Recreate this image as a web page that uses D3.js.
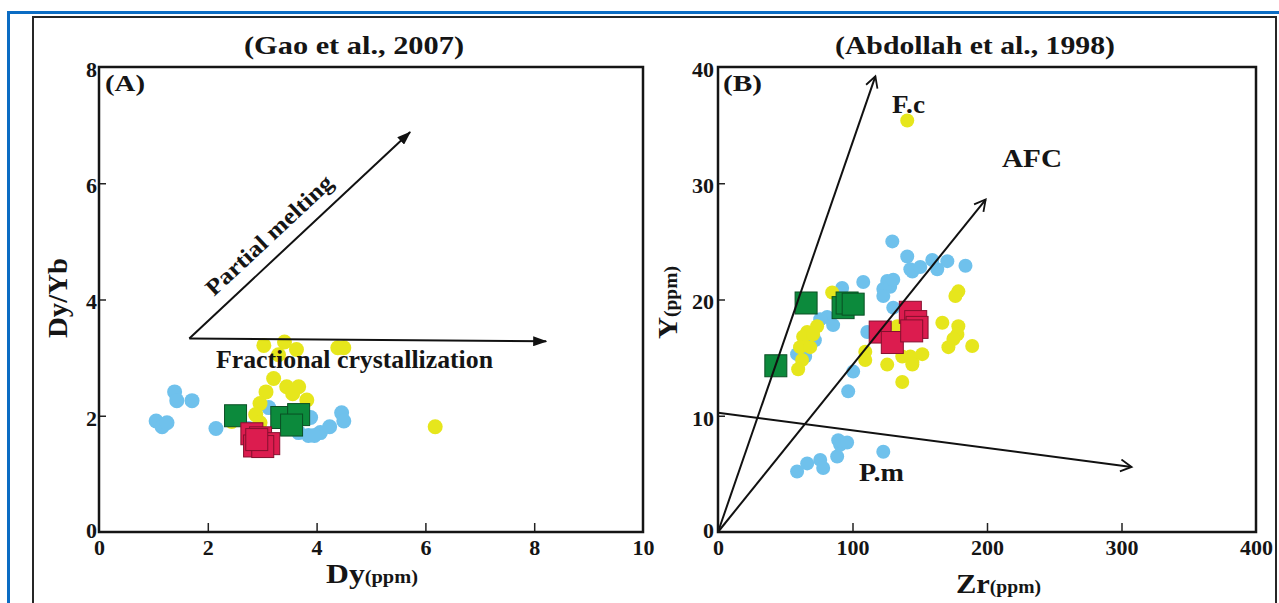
<!DOCTYPE html>
<html>
<head>
<meta charset="utf-8">
<script src="https://cdn.jsdelivr.net/npm/d3@7"></script>
<style>
  body { margin: 0; background: #fff; }
  svg text { font-family: "Times New Roman", "Liberation Serif", Tinos, Times, serif; font-weight: 700; fill: #151515; }
</style>
</head>
<body>
<div id="chart"></div>
<script>
// ---- Panel A data: Dy (ppm) vs Dy/Yb
const aXTicks = [0, 2, 4, 6, 8, 10];
const aYTicks = [0, 2, 4, 6, 8];
const aBlue = [[1.05,1.91],[1.16,1.81],[1.25,1.88],[1.39,2.41],[1.43,2.26],[1.71,2.26],[2.15,1.78],
  [2.75,1.78],[3.12,2.14],[3.67,1.71],[3.85,1.66],[4.07,1.71],[4.24,1.81],[4.46,2.05],[4.50,1.91],
  [3.89,1.97],[3.76,2.03],[3.96,1.66]];
const aYellow = [[3.03,3.21],[3.41,3.27],[3.63,3.14],[3.30,3.05],[4.39,3.17],[4.50,3.17],[3.21,2.64],
  [3.45,2.50],[3.67,2.50],[3.07,2.41],[3.56,2.38],[3.82,2.27],[2.96,2.21],[2.88,2.02],[2.96,1.88],
  [2.44,1.90],[6.18,1.81]];
const aGreen = [[2.51,2.00],[3.36,1.97],[3.67,2.02],[3.54,1.84]];
const aRed = [[2.81,1.69],[2.97,1.62],[2.86,1.48],[3.12,1.52],[3.01,1.47],[2.90,1.59]];
// arrow start / end points in data units
const aMeltArrow = [[1.66,3.33],[5.72,6.88]];
const aFracArrow = [[1.66,3.33],[8.22,3.28]];

// ---- Panel B data: Zr (ppm) vs Y (ppm)
const bXTicks = [0, 100, 200, 300, 400];
const bYTicks = [0, 10, 20, 30, 40];
const bBlue = [[129.6,25.0],[140.7,23.7],[144.5,22.4],[143,22.6],[150.4,22.8],[159.3,23.4],[163,22.6],
  [170.5,23.3],[184,22.9],[108,21.5],[125.8,21.6],[122.9,20.9],[128,21.1],[122.9,20.3],[130.3,21.7],
  [92.3,21.0],[130.3,19.3],[81.2,18.5],[85.6,17.8],[76,18.3],[111,17.2],[72,16.5],[58.8,15.3],
  [64.8,15.1],[100.5,13.8],[96.8,12.1],[58.8,5.2],[66.3,5.9],[76,6.2],[78.2,5.5],[88.6,6.5],
  [90.8,7.5],[89.4,7.9],[96,7.7],[122.9,6.9]];
const bYellow = [[140.7,35.4],[84.9,20.6],[73.7,17.7],[66.3,17.2],[63.3,16.8],[70.7,17.0],[61,15.9],
  [68.5,15.9],[62.5,14.8],[59.6,14.0],[109.5,15.5],[109.5,14.8],[125.8,14.4],[137,12.9],[137,15.1],
  [144.5,14.6],[133.3,17.7],[178.7,20.7],[176.5,20.3],[166.8,18.0],[178.7,17.7],[178,17.0],[175,16.6],
  [171.3,15.9],[189,16.0],[151.9,15.3],[143,15.1],[144.5,14.4]];
const bGreen = [[43,14.3],[65.5,19.7],[93,19.3],[96,19.7],[100.5,19.6]];
const bRed = [[120.6,17.2],[129.6,16.3],[143,18.9],[147,18.1],[148,17.6],[144,17.3]];
const bFcArrow = [[0,0],[117,39.2]];
const bAfcArrow = [[0,0],[199,28.6]];
const bPmArrow = [[0,10.25],[307.5,5.6]];

const colBlue = "#6fc1ec", colYellow = "#e6e61c", colGreen = "#0c8a3c", colRed = "#dc1c4f";

var svg = d3.select("#chart").append("svg")
  .attr("width", 1279).attr("height", 603);

svg.append("rect").attr("width", 1279).attr("height", 603).attr("fill", "#fff");

// outer frames (blue page border + black figure box)
svg.append("rect").attr("x", 8.5).attr("y", 12.5).attr("width", 1300).attr("height", 700)
  .attr("fill", "none").attr("stroke", "#0b6cc3").attr("stroke-width", 3);
svg.append("rect").attr("x", 33).attr("y", 17).attr("width", 1243).attr("height", 700)
  .attr("fill", "none").attr("stroke", "#262626").attr("stroke-width", 2);

// arrow heads
var defs = svg.append("defs");
defs.append("marker").attr("id", "headFill")
  .attr("markerUnits", "userSpaceOnUse").attr("viewBox", "0 0 14 10")
  .attr("refX", 13).attr("refY", 5).attr("markerWidth", 14).attr("markerHeight", 10)
  .attr("orient", "auto")
  .append("path").attr("d", "M0,0 L14,5 L0,10 Z").attr("fill", "#111");
defs.append("marker").attr("id", "headOpen")
  .attr("markerUnits", "userSpaceOnUse").attr("viewBox", "0 0 14 14")
  .attr("refX", 12).attr("refY", 7).attr("markerWidth", 14).attr("markerHeight", 14)
  .attr("orient", "auto")
  .append("path").attr("d", "M1,1 L12,7 L1,13").attr("fill", "none")
  .attr("stroke", "#111").attr("stroke-width", 1.8);

function stretchText(sel, len) {
  return sel.attr("textLength", len).attr("lengthAdjust", "spacingAndGlyphs");
}

// Draw one panel: frame, axes, points
function drawPanel(p) {
  var x = d3.scaleLinear().domain(p.xDomain).range([p.left, p.right]);
  var y = d3.scaleLinear().domain(p.yDomain).range([p.bottom, p.top]);
  var g = svg.append("g");

  // x axis with inward ticks
  var xa = g.append("g").attr("transform", "translate(0," + p.bottom + ")")
    .call(d3.axisBottom(x).tickValues(p.xTicks).tickSize(-9).tickFormat(d3.format("d")));
  xa.select(".domain").remove();
  xa.selectAll("line").attr("stroke", "#222").attr("stroke-width", 1.5)
    .attr("display", (d, i) => (i === 0 || i === p.xTicks.length - 1) ? "none" : null);
  xa.selectAll("text").attr("y", 23).attr("dy", null)
    .attr("font-family", null).attr("font-size", null)
    .style("font-size", "22px").attr("fill", "#151515");

  var ya = g.append("g").attr("transform", "translate(" + p.left + ",0)")
    .call(d3.axisLeft(y).tickValues(p.yTicks).tickSize(-7).tickFormat(d3.format("d")));
  ya.select(".domain").remove();
  ya.selectAll("line").attr("stroke", "#222").attr("stroke-width", 1.5)
    .attr("display", (d, i) => (i === 0 || i === p.yTicks.length - 1) ? "none" : null);
  ya.selectAll("text").attr("x", p.yLabelX).attr("dy", (d, i) => i === 0 ? "0.25em" : "0.42em")
    .style("font-size", "22px").attr("fill", "#151515");
  // d3 axis sets font-family on the group; clear it so the CSS serif applies
  xa.attr("font-family", null).attr("font-size", null);
  ya.attr("font-family", null).attr("font-size", null);

  // points: blue, yellow circles then green, red squares
  g.append("g").selectAll("circle").data(p.blue).enter().append("circle")
    .attr("cx", d => x(d[0])).attr("cy", d => y(d[1])).attr("r", p.r).attr("fill", colBlue);
  g.append("g").selectAll("circle").data(p.yellow).enter().append("circle")
    .attr("cx", d => x(d[0])).attr("cy", d => y(d[1])).attr("r", p.r).attr("fill", colYellow);
  g.append("g").selectAll("rect").data(p.green).enter().append("rect")
    .attr("x", d => x(d[0]) - p.sq / 2).attr("y", d => y(d[1]) - p.sq / 2)
    .attr("width", p.sq).attr("height", p.sq)
    .attr("fill", colGreen).attr("stroke", "#0a4f24").attr("stroke-width", 1);
  g.append("g").selectAll("rect").data(p.red).enter().append("rect")
    .attr("x", d => x(d[0]) - p.sq / 2).attr("y", d => y(d[1]) - p.sq / 2)
    .attr("width", p.sq).attr("height", p.sq)
    .attr("fill", colRed).attr("stroke", "#85102e").attr("stroke-width", 1);

  // arrows
  p.arrows.forEach(function (a) {
    g.append("line")
      .attr("x1", x(a[0][0])).attr("y1", y(a[0][1]))
      .attr("x2", x(a[1][0])).attr("y2", y(a[1][1]))
      .attr("stroke", "#111").attr("stroke-width", 2)
      .attr("marker-end", "url(#" + p.head + ")");
  });

  // plot frame
  g.append("rect").attr("x", p.left).attr("y", p.top)
    .attr("width", p.right - p.left).attr("height", p.bottom - p.top)
    .attr("fill", "none").attr("stroke", "#151515").attr("stroke-width", 2.5);

  return g;
}

var gA = drawPanel({
  xDomain: [0, 10], yDomain: [0, 8], left: 99, right: 643, top: 67, bottom: 532,
  xTicks: aXTicks, yTicks: aYTicks, yLabelX: -2,
  blue: aBlue, yellow: aYellow, green: aGreen, red: aRed, r: 7.5, sq: 22,
  arrows: [aMeltArrow, aFracArrow], head: "headFill"
});

var gB = drawPanel({
  xDomain: [0, 400], yDomain: [0, 40], left: 718, right: 1256, top: 67, bottom: 532,
  xTicks: bXTicks, yTicks: bYTicks, yLabelX: -4,
  blue: bBlue, yellow: bYellow, green: bGreen, red: bRed, r: 7, sq: 22,
  arrows: [bFcArrow, bAfcArrow, bPmArrow], head: "headOpen"
});

// titles and panel letters
stretchText(svg.append("text").attr("x", 244).attr("y", 54).style("font-size", "25px")
  .text("(Gao et al., 2007)"), 220);
stretchText(svg.append("text").attr("x", 835).attr("y", 54).style("font-size", "25px")
  .text("(Abdollah et al., 1998)"), 280);
stretchText(svg.append("text").attr("x", 105).attr("y", 91).style("font-size", "23px").text("(A)"), 40);
stretchText(svg.append("text").attr("x", 723).attr("y", 91).style("font-size", "23px").text("(B)"), 39);

// arrow labels
stretchText(svg.append("text").attr("transform", "translate(214,297) rotate(-43)")
  .style("font-size", "23px").text("Partial melting"), 165);
stretchText(svg.append("text").attr("x", 216).attr("y", 368).style("font-size", "25px")
  .text("Fractional crystallization"), 277);
stretchText(svg.append("text").attr("x", 892).attr("y", 113).style("font-size", "25px").text("F.c"), 33);
stretchText(svg.append("text").attr("x", 1002).attr("y", 167).style("font-size", "25px").text("AFC"), 60);
stretchText(svg.append("text").attr("x", 859).attr("y", 481).style("font-size", "25px").text("P.m"), 45);

// axis titles
var t1 = svg.append("text").attr("x", 326).attr("y", 583);
t1.append("tspan").style("font-size", "28px").text("Dy");
t1.append("tspan").style("font-size", "18px").text("(ppm)");
stretchText(t1, 92);

var t2 = svg.append("text").attr("x", 956).attr("y", 593);
t2.append("tspan").style("font-size", "28px").text("Zr");
t2.append("tspan").style("font-size", "18px").text("(ppm)");
stretchText(t2, 85);

stretchText(svg.append("text").attr("transform", "translate(67,338) rotate(-90)")
  .style("font-size", "28px").text("Dy/Yb"), 80);

var t3 = svg.append("text").attr("transform", "translate(677,339) rotate(-90)");
t3.append("tspan").style("font-size", "28px").text("Y");
t3.append("tspan").style("font-size", "18px").text("(ppm)");
stretchText(t3, 73);
</script>
</body>
</html>
